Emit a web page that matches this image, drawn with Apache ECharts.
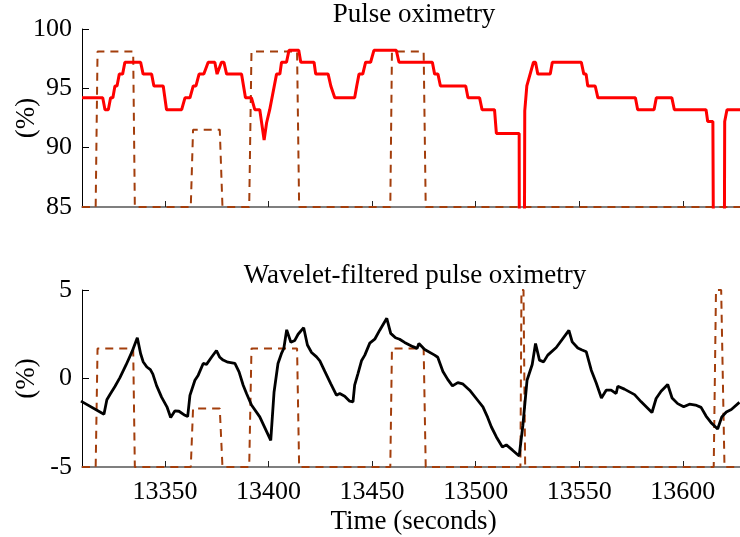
<!DOCTYPE html>
<html><head><meta charset="utf-8">
<script src="https://cdn.jsdelivr.net/npm/echarts@6/dist/echarts.min.js"></script>
<style>html,body{margin:0;padding:0;background:#fff}#c{width:740px;height:537px}</style>
</head><body><div id="c"></div>
<script>
// ---- data ----
const xTicks = [13350, 13400, 13450, 13500, 13550, 13600];
const topTitle = 'Pulse oximetry';
const bottomTitle = 'Wavelet-filtered pulse oximetry';
const xName = 'Time (seconds)';
const yName = '(%)';

const spo2Time = [13310,13320,13321.1,13322.7,13323.8,13324.9,13325.9,13326.9,13328,13329.6,13330.7,13338.3,13339.5,13343.6,13344.7,13349.2,13350.8,13358.1,13359.7,13362.1,13363.7,13365,13366.5,13368.8,13370.9,13374.1,13375.2,13377.3,13378.5,13379.8,13387,13388.9,13391.8,13393.4,13395.8,13397.9,13399.1,13400.6,13403.9,13405.5,13406.3,13408.7,13409.9,13414.6,13415.6,13422,13422.8,13428.8,13430.1,13430.8,13432,13441.6,13442.6,13443.7,13445.5,13446.9,13449.3,13450.9,13461.7,13463,13479.1,13480.2,13481.8,13483,13495.2,13496.3,13501.9,13503.1,13509.1,13510,13521,13521.1,13523.5,13523.7,13524.7,13525.5,13527.9,13528.9,13530,13536,13537,13551,13552.2,13553.3,13554.1,13557.7,13559,13577.1,13578.2,13586.1,13587.2,13594.7,13595.9,13611.2,13612,13614.5,13614.8,13620,13620.2,13621.3,13630];
const spo2Value = [94.2,94.2,93.2,93.2,94.2,94.2,95.2,95.2,96.2,96.2,97.2,97.2,96.2,96.2,95.2,95.2,93.2,93.2,94.2,94.2,95.2,95.2,96.2,96.2,97.2,97.2,96.2,97.2,97.2,96.2,96.2,94.2,94.2,93.2,93.2,90.65,92.1,93.2,96.2,96.2,97.2,97.2,98.2,98.2,97.2,97.2,96.2,96.2,95.2,95.2,94.2,94.2,95.2,96.2,96.2,97.2,97.2,98.2,98.2,97.2,97.2,96.2,96.2,95.2,95.2,94.2,94.2,93.2,93.2,91.2,91.2,80,80,93.1,95.2,95.2,97.2,97.2,96.2,96.2,97.2,97.2,96.2,96.2,95.2,95.2,94.2,94.2,93.2,93.2,94.2,94.2,93.2,93.2,92.2,92.2,80,80,92.2,93.2,93.2];

const filtTime = [13309.5,13320.6,13322.0,13323.5,13325.9,13328.3,13331.2,13334.1,13336.7,13338.3,13339.5,13341.3,13343,13344.2,13346,13348.4,13351,13352.8,13354.8,13356.8,13359.7,13361,13362.1,13364.5,13366.1,13368.5,13370.1,13372.5,13374.9,13376.5,13378.1,13380.4,13383.8,13385.8,13387.8,13389.4,13391.8,13395.8,13401.1,13402.7,13404.6,13406.4,13407.4,13408.8,13410.8,13412.7,13414.3,13417,13418.8,13420.8,13423.2,13424.8,13427.2,13430.1,13432.8,13434.4,13436.8,13439.2,13440.8,13441.6,13443.2,13444.9,13446.5,13448.9,13451.3,13453.7,13457.1,13459,13461.3,13463.3,13465.7,13469.7,13471.7,13472.6,13475.4,13480.2,13481.7,13484.2,13486.5,13488.8,13491.4,13493.7,13497.1,13500.3,13503.5,13505.8,13507.6,13510,13512.9,13514.8,13517.8,13521,13522.8,13524.8,13527.3,13528.9,13530.8,13532.8,13534.8,13538.9,13545,13546.6,13549.3,13551.1,13553.4,13555.8,13558.2,13560.7,13563,13565.4,13567.8,13568.6,13571.8,13576.7,13579.9,13585.1,13587.1,13589.5,13592.7,13594.8,13597.5,13600.4,13603.2,13606.1,13608.8,13611.2,13613.9,13616.8,13618.8,13621,13623.4,13627.3];
const filtValue = [-1.28,-2.02,-1.2,-0.9,-0.45,0.05,0.75,1.5,2.3,1.4,0.95,0.65,0.5,0.25,-0.4,-1.05,-1.6,-2.2,-1.83,-1.85,-2.08,-2.15,-0.95,-0.1,0.19,0.85,0.8,1.2,1.58,1.2,1.04,0.92,0.86,0.37,-0.38,-0.85,-1.5,-2.17,-3.5,-0.76,0.85,1.45,1.7,2.75,2.05,2.15,2.5,2.87,1.89,1.47,1.22,1.0,0.4,-0.3,-0.94,-0.85,-1.0,-1.28,-1.32,-0.38,0.28,1.0,1.32,2.0,2.22,2.73,3.4,2.55,2.3,2.22,2.04,1.8,1.7,1.98,1.64,1.32,1.2,0.4,-0.05,-0.42,-0.23,-0.3,-0.66,-1.13,-1.6,-2.2,-2.74,-3.3,-3.87,-3.75,-4.05,-4.38,-2.64,-0.1,0.79,1.98,1.04,0.94,1.32,1.75,2.72,2.07,1.72,1.62,1.51,0.47,-0.25,-1.1,-0.66,-0.66,-0.85,-0.44,-0.6,-0.91,-1.32,-1.92,-1.13,-0.72,-0.34,-1.1,-1.42,-1.6,-1.45,-1.5,-1.63,-2.12,-2.53,-2.85,-2.17,-1.89,-1.75,-1.35];

const detTopTime = [13310,13316.6,13317.5,13334.7,13335.5,13362.5,13363.6,13376.5,13377.8,13390.7,13391.8,13413.8,13414.8,13458.8,13459.6,13474.9,13475.9,13630];
const detTopValue = [85,85,98.1,98.1,85,85,91.5,91.5,85,85,98.1,98.1,85,85,98.1,98.1,85,85];
const detBotTime = [13310,13316.6,13317.5,13334.7,13335.5,13362.5,13363.6,13376.5,13377.8,13390.7,13391.8,13413.8,13414.8,13458.8,13459.6,13474.9,13475.9,13521.6,13522.1,13523.1,13523.9,13614.9,13616.0,13618.5,13620.1,13630];
const detBotValue = [-5,-5,1.7,1.7,-5,-5,-1.7,-1.7,-5,-5,1.7,1.7,-5,-5,1.7,1.7,-5,-5,5,5,-5,-5,5,5,-5,-5];

// ---- chart ----
const zip = (a, b) => a.map((t, i) => [t, b[i]]);
const FONT = 'Liberation Serif';
const FS = 26;
const FT = 27;
const XMIN = 13310, XMAX = 13630;
const dashColor = '#a33e0c';

function xAxis(gridIndex, showLabels) {
  return {
    type: 'value', gridIndex, min: XMIN, max: XMAX,
    name: showLabels ? xName : '', nameLocation: 'middle', nameGap: 41, nameMoveOverlap: false,
    nameTextStyle: { fontFamily: FONT, fontSize: FT, color: '#000' },
    axisLine: { show: true, onZero: false, lineStyle: { color: '#555', width: 1.5 } },
    axisTick: { show: true, inside: true, length: 6, customValues: xTicks, lineStyle: { color: '#222', width: 1 } },
    axisLabel: { show: showLabels, customValues: xTicks, formatter: v => String(v), fontFamily: FONT, fontSize: FS, color: '#000', margin: 12 },
    splitLine: { show: false }
  };
}
function yAxis(gridIndex, min, max) {
  return {
    type: 'value', gridIndex, min, max, interval: 5,
    name: yName, nameLocation: 'middle', nameGap: 42, nameRotate: 90, nameMoveOverlap: false,
    nameTextStyle: { fontFamily: FONT, fontSize: FT, color: '#000' },
    axisLine: { show: true, lineStyle: { color: '#000', width: 1 } },
    axisTick: { show: true, inside: true, length: 7, lineStyle: { color: '#000', width: 1 } },
    axisLabel: { fontFamily: FONT, fontSize: FS, color: '#000', margin: 10, formatter: v => String(v) },
    splitLine: { show: false }
  };
}

const chart = echarts.init(document.getElementById('c'), null, { renderer: 'canvas' });
chart.setOption({
  animation: false,
  backgroundColor: '#fff',
  title: [
    { text: topTitle, left: 414, top: 1, padding: 0, textAlign: 'center', textStyle: { fontFamily: FONT, fontSize: FT, fontWeight: 'normal', color: '#000' } },
    { text: bottomTitle, left: 415, top: 262, padding: 0, textAlign: 'center', textStyle: { fontFamily: FONT, fontSize: FT, fontWeight: 'normal', color: '#000' } }
  ],
  grid: [
    { left: 82, top: 29, width: 663, height: 178, outerBoundsMode: 'none', containLabel: false },
    { left: 82, top: 290, width: 663, height: 177, outerBoundsMode: 'none', containLabel: false }
  ],
  xAxis: [xAxis(0, false), xAxis(1, true)],
  yAxis: [yAxis(0, 85, 100), yAxis(1, -5, 5)],
  series: [
    { type: 'line', xAxisIndex: 0, yAxisIndex: 0, data: zip(detTopTime, detTopValue), showSymbol: false, clip: true,
      lineStyle: { color: dashColor, width: 2, type: [8, 6] }, z: 2 },
    { type: 'line', xAxisIndex: 0, yAxisIndex: 0, data: zip(spo2Time, spo2Value), showSymbol: false, clip: true,
      lineStyle: { color: '#ff0000', width: 3 }, z: 3 },
    { type: 'line', xAxisIndex: 1, yAxisIndex: 1, data: zip(detBotTime, detBotValue), showSymbol: false, clip: true,
      lineStyle: { color: dashColor, width: 2, type: [8, 6] }, z: 2 },
    { type: 'line', xAxisIndex: 1, yAxisIndex: 1, data: zip(filtTime, filtValue), showSymbol: false, clip: true,
      lineStyle: { color: '#000', width: 2.8 }, z: 3 }
  ]
});
</script></body></html>
